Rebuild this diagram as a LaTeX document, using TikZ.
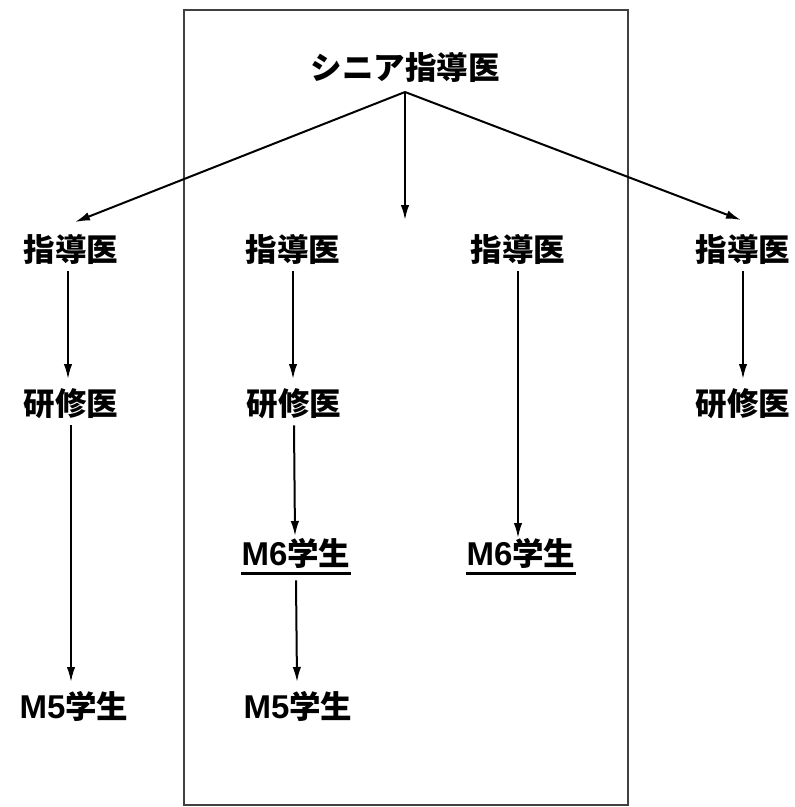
\documentclass[tikz,border=0pt]{standalone}
\usepackage{fontspec}
\setmainfont{Noto Sans CJK JP}
\newfontfamily\latinbold{Liberation Sans}
\usetikzlibrary{arrows.meta}
\newcommand{\lat}[1]{{\latinbold\bfseries\fontsize{33}{34}\selectfont #1}}
\begin{document}
\begin{tikzpicture}[x=1pt,y=-1pt,
  lbl/.style={font=\fontsize{31.5}{34}\selectfont\bfseries, inner sep=0pt, anchor=center},
  arr/.style={line width=2pt, -{Latex[length=15pt,width=8.5pt]}},
  ul/.style={line width=2.6pt}]
\useasboundingbox (0,0) rectangle (795,807);
\fill[white] (0,0) rectangle (795,807);
\draw[line width=1.4pt, black!75] (184,10) rectangle (628,805);
% nodes
\node[lbl] (sr) at (405,68) {シニア指導医};
\coordinate (top) at (405,92);
\node[lbl] (d1) at (71,250) {指導医};
\node[lbl] (d2) at (293,250) {指導医};
\node[lbl] (d3) at (518,250) {指導医};
\node[lbl] (d4) at (743,250) {指導医};
\coordinate (mid) at (405,220);
\node[lbl] (r1) at (71,404) {研修医};
\node[lbl] (r2) at (294,404) {研修医};
\node[lbl] (r4) at (743,404) {研修医};
\node[lbl] (m62) at (296,553) {\lat{M6}学生};
\node[lbl] (m63) at (521,553) {\lat{M6}学生};
\node[lbl] (m51) at (74,706) {\lat{M5}学生};
\node[lbl] (m52) at (298,706) {\lat{M5}学生};
% underlines
\draw[ul] ([yshift=-5pt]m62.south west) -- ([yshift=-5pt]m62.south east);
\draw[ul] ([yshift=-5pt]m63.south west) -- ([yshift=-5pt]m63.south east);
% connectors
\draw[arr] (top) -- (75,222);
\draw[arr] (top) -- (mid);
\draw[arr] (top) -- (741,220);
\draw[arr] (d1.south) ++(-3,6) -- (68,379);
\draw[arr] (d2.south) ++(0,6) -- (293,379);
\draw[arr] (d3.south) ++(0,6) -- (518,538);
\draw[arr] (d4.south) ++(0,6) -- (743,379);
\draw[arr] (r1.south) ++(0,6) -- (71,682);
\draw[arr] (r2.south) ++(0,6) -- (295,536);
\draw[arr] (m62.south) ++(0,12) -- (297,682);
\end{tikzpicture}
\end{document}
